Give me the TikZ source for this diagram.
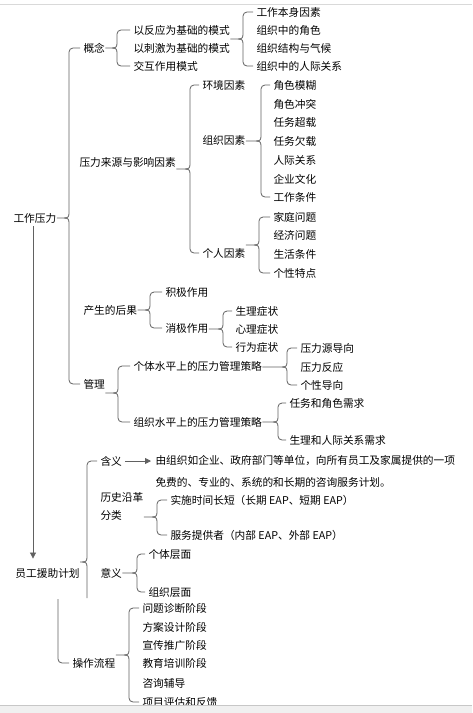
\documentclass[tikz,border=0pt]{standalone}
\usepackage{fontspec}
\setmainfont{Noto Sans CJK SC}
\usetikzlibrary{arrows.meta,calc}
% #1 parent, #2 brace x, #3 tip y, #4 top child, #5 bottom child
\newcommand\brc[5]{%
  \draw[ln] (#1.east |- 0,#3) -- ({#2-5},#3)
    .. controls ({#2-1},#3) and (#2,{#3-1}) .. (#2,{#3-5})
    [rounded corners=4pt] -- (#2,0 |- #4.west) -- ([xshift=-3pt]#4.west);
  \draw[ln] ({#2-5},#3)
    .. controls ({#2-1},#3) and (#2,{#3+1}) .. (#2,{#3+5})
    [rounded corners=4pt] -- (#2,0 |- #5.west) -- ([xshift=-3pt]#5.west);}
\begin{document}
\begin{tikzpicture}[x=1pt,y=-1pt,
  txt/.style={anchor=west,inner sep=0.5pt,outer sep=0pt,font=\fontsize{10.7pt}{13pt}\selectfont,text=black},
  ln/.style={draw=black!62,line width=0.8pt},
  tip/.style={-{Triangle[length=6pt,width=6pt]}}]
\useasboundingbox (0,0) rectangle (472,713);
\fill[white] (0,0) rectangle (472,713);
% nodes
\node[txt] (root) at (13,218) {工作压力};
\node[txt] (gn) at (83,48) {概念};
\node[txt] (m1) at (133,30) {以反应为基础的模式};
\node[txt] (m2) at (133,48) {以刺激为基础的模式};
\node[txt] (m3) at (133,66) {交互作用模式};
\node[txt] (f1) at (256,12) {工作本身因素};
\node[txt] (f2) at (256,30) {组织中的角色};
\node[txt] (f3) at (256,48) {组织结构与气候};
\node[txt] (f4) at (256,66) {组织中的人际关系};
\node[txt] (ly) at (79,162) {压力来源与影响因素};
\node[txt] (hj) at (202,85) {环境因素};
\node[txt] (zz) at (202,140) {组织因素};
\node[txt] (gr) at (202,253) {个人因素};
\node[txt] (z1) at (273,85) {角色模糊};
\node[txt] (z2) at (273,104) {角色冲突};
\node[txt] (z3) at (273,122) {任务超载};
\node[txt] (z4) at (273,141) {任务欠载};
\node[txt] (z5) at (273,160) {人际关系};
\node[txt] (z6) at (273,179) {企业文化};
\node[txt] (z7) at (273,197) {工作条件};
\node[txt] (g1) at (273,217) {家庭问题};
\node[txt] (g2) at (273,235) {经济问题};
\node[txt] (g3) at (273,254) {生活条件};
\node[txt] (g4) at (273,273) {个性特点};
\node[txt] (hg) at (83,310) {产生的后果};
\node[txt] (jj) at (165,292) {积极作用};
\node[txt] (xj) at (165,328) {消极作用};
\node[txt] (s1) at (235,311) {生理症状};
\node[txt] (s2) at (235,329) {心理症状};
\node[txt] (s3) at (235,347) {行为症状};
\node[txt] (gl) at (83,384) {管理};
\node[txt] (gt) at (133,366) {个体水平上的压力管理策略};
\node[txt] (zs) at (133,422) {组织水平上的压力管理策略};
\node[txt] (p1) at (300,348) {压力源导向};
\node[txt] (p2) at (300,367) {压力反应};
\node[txt] (p3) at (300,385) {个性导向};
\node[txt] (q1) at (289,403) {任务和角色需求};
\node[txt] (q2) at (289,440) {生理和人际关系需求};
\node[txt] (eap) at (15,573) {员工援助计划};
\node[txt] (hy) at (100,461) {含义};
\node[txt] (d1) at (155,461) {由组织如企业、政府部门等单位，向所有员工及家属提供的一项};
\node[txt] (d2) at (155,482) {免费的、专业的、系统的和长期的咨询服务计划。};
\node[txt,align=left,font=\fontsize{10.7pt}{18pt}\selectfont] (ls) at (100,506) {历史沿革\\分类};
\node[txt] (c1) at (170,500) {实施时间长短（长期 EAP、短期 EAP）};
\node[txt] (c2) at (170,535) {服务提供者（内部 EAP、外部 EAP）};
\node[txt] (yy) at (100,573) {意义};
\node[txt] (y1) at (148,554) {个体层面};
\node[txt] (y2) at (148,592) {组织层面};
\node[txt] (lc) at (72,663) {操作流程};
\node[txt] (o1) at (142,608) {问题诊断阶段};
\node[txt] (o2) at (142,627) {方案设计阶段};
\node[txt] (o3) at (142,645) {宣传推广阶段};
\node[txt] (o4) at (142,663) {教育培训阶段};
\node[txt] (o5) at (142,683) {咨询辅导};
\node[txt] (o6) at (142,702) {项目评估和反馈};
% braces
\brc{root}{69}{218}{gn}{gl}
\brc{gn}{117}{48}{m1}{m3}
\brc{m1}{243}{39}{f1}{f4}
\brc{ly}{190}{169}{hj}{gr}
\brc{zz}{261}{141}{z1}{z7}
\brc{gr}{259}{245}{g1}{g4}
\brc{hg}{150}{310}{jj}{xj}
\brc{xj}{223}{329}{s1}{s3}
\brc{gt}{287}{367}{p1}{p3}
\brc{gl}{118}{393}{gt}{zs}
\brc{zs}{278}{422}{q1}{q2}
\brc{ls}{157}{517}{c1}{c2}
\brc{yy}{137}{573}{y1}{y2}
\brc{lc}{129}{655}{o1}{o6}
% EAP brace (broken in the original)
\draw[ln] (eap.east |- 0,562) -- (82,562)
  .. controls (86,562) and (87,561) .. (87,557)
  [rounded corners=4pt] -- (87,0 |- hy.west) -- ([xshift=-3pt]hy.west);
\draw[ln] (82,562) .. controls (86,562) and (87,563) .. (87,567) -- (87,598);
\draw[ln] (58,599) [rounded corners=4pt] -- (58,0 |- lc.west) -- ([xshift=-3pt]lc.west);
% arrows
\draw[ln,tip] ($(root.south -| 33,0)+(0,3)$) -- ($(eap.north -| 33,0)+(0,-9)$);
\draw[ln,tip,shorten <=3pt,shorten >=4pt] (hy.east) -- (d1.west);
% frame artifacts
\draw[black!15,line width=1pt] (0,4) -- (472,4);
\fill[black!6] (0,706) rectangle (472,713);
\draw[black!22,line width=1pt] (0,705.5) -- (472,705.5);
\end{tikzpicture}
\end{document}
